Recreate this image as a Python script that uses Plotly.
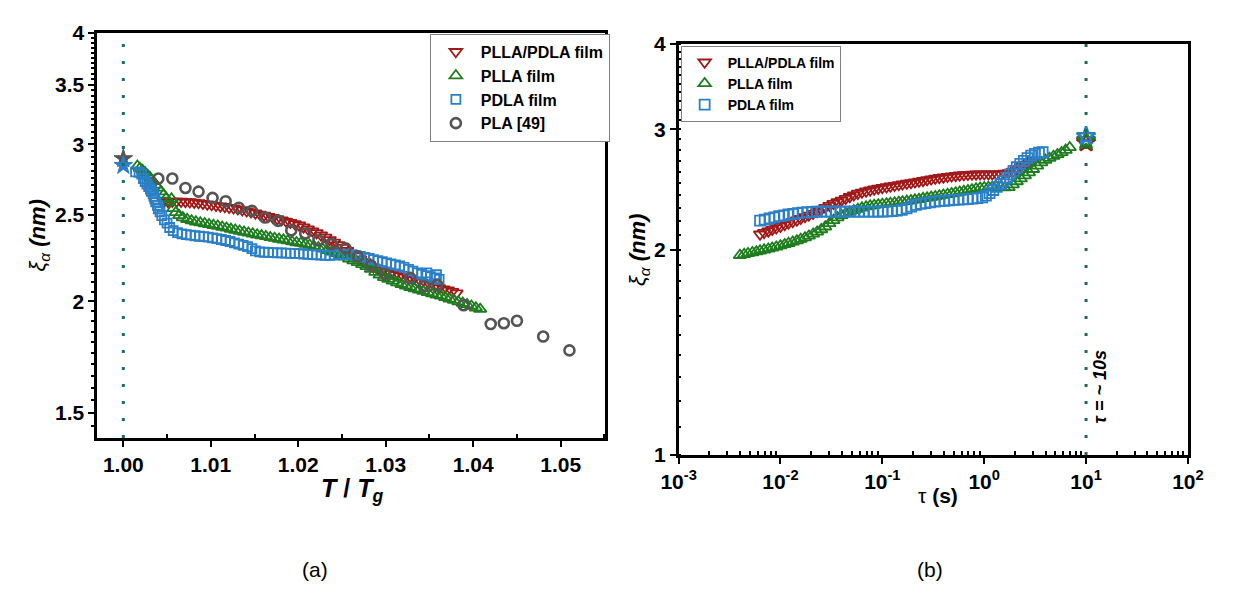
import plotly.graph_objects as go

# ---------------- data: panel (a) ----------------
pla_x = [1.0040, 1.0056, 1.0071, 1.0086, 1.0102, 1.0117, 1.0132, 1.0147, 1.0162, 1.0177,
         1.0192, 1.0208, 1.0223, 1.0238, 1.0254, 1.0268, 1.0283, 1.0299, 1.0328, 1.0344,
         1.0359, 1.0389, 1.0420, 1.0435, 1.0450, 1.0480, 1.0510]
pla_y = [2.746, 2.746, 2.680, 2.655, 2.612, 2.590, 2.547, 2.526, 2.483, 2.462,
         2.402, 2.383, 2.342, 2.319, 2.294, 2.246, 2.193, 2.146, 2.125, 2.079,
         2.086, 1.980, 1.886, 1.890, 1.902, 1.826, 1.762]

blend_a_x = [1.0046, 1.0051, 1.0056, 1.0061, 1.0066, 1.0071, 1.0076, 1.0081, 1.0086, 1.0091,
             1.0096, 1.0101, 1.0106, 1.0111, 1.0116, 1.0121, 1.0126, 1.0131, 1.0136, 1.0141,
             1.0146, 1.0151, 1.0156, 1.0161, 1.0166, 1.0171, 1.0176, 1.0181, 1.0186, 1.0191,
             1.0196, 1.0201, 1.0206, 1.0211, 1.0216, 1.0221, 1.0226, 1.0231, 1.0236, 1.0241,
             1.0246, 1.0251, 1.0256, 1.0261, 1.0266, 1.0271, 1.0276, 1.0281, 1.0286, 1.0291,
             1.0296, 1.0301, 1.0306, 1.0311, 1.0316, 1.0321, 1.0326, 1.0331, 1.0336, 1.0341,
             1.0346, 1.0351, 1.0356, 1.0361, 1.0366, 1.0371, 1.0376, 1.0381]
blend_a_y = [2.585, 2.587, 2.588, 2.589, 2.588, 2.587, 2.585, 2.582, 2.579, 2.574,
             2.570, 2.566, 2.561, 2.557, 2.553, 2.548, 2.544, 2.538, 2.532, 2.525,
             2.518, 2.511, 2.504, 2.497, 2.489, 2.482, 2.475, 2.467, 2.459, 2.451,
             2.443, 2.434, 2.422, 2.410, 2.398, 2.386, 2.372, 2.359, 2.344, 2.329,
             2.313, 2.297, 2.280, 2.263, 2.247, 2.230, 2.214, 2.198, 2.184, 2.174,
             2.165, 2.157, 2.149, 2.142, 2.134, 2.127, 2.120, 2.113, 2.106, 2.100,
             2.093, 2.085, 2.078, 2.070, 2.064, 2.058, 2.051, 2.043]

plla_a_x = [1.0016, 1.0019, 1.0022, 1.0025, 1.0028, 1.0031, 1.0034, 1.0037, 1.0040, 1.0043,
            1.0046, 1.0049, 1.0052, 1.0055, 1.0057, 1.0060, 1.0064, 1.0068, 1.0073, 1.0078,
            1.0083, 1.0088, 1.0093, 1.0098, 1.0103, 1.0108, 1.0113, 1.0118, 1.0123, 1.0128,
            1.0133, 1.0138, 1.0143, 1.0148, 1.0153, 1.0158, 1.0163, 1.0168, 1.0173, 1.0178,
            1.0183, 1.0188, 1.0193, 1.0198, 1.0203, 1.0208, 1.0213, 1.0218, 1.0223, 1.0228,
            1.0233, 1.0238, 1.0243, 1.0248, 1.0253, 1.0258, 1.0263, 1.0268, 1.0273, 1.0278,
            1.0283, 1.0288, 1.0293, 1.0298, 1.0303, 1.0308, 1.0313, 1.0318, 1.0323, 1.0328,
            1.0333, 1.0338, 1.0343, 1.0348, 1.0353, 1.0358, 1.0363, 1.0368, 1.0373, 1.0378,
            1.0383, 1.0388, 1.0393, 1.0398, 1.0403, 1.0408]
plla_a_y = [2.836, 2.820, 2.806, 2.788, 2.769, 2.750, 2.726, 2.702, 2.680, 2.655,
            2.633, 2.610, 2.585, 2.606, 2.542, 2.516, 2.497, 2.483, 2.472, 2.463,
            2.456, 2.450, 2.445, 2.439, 2.434, 2.429, 2.423, 2.417, 2.410, 2.404,
            2.398, 2.392, 2.386, 2.381, 2.375, 2.370, 2.365, 2.359, 2.354, 2.349,
            2.344, 2.339, 2.333, 2.328, 2.325, 2.318, 2.313, 2.306, 2.298, 2.290,
            2.281, 2.272, 2.264, 2.254, 2.243, 2.232, 2.222, 2.211, 2.200, 2.189,
            2.174, 2.157, 2.142, 2.128, 2.118, 2.108, 2.099, 2.090, 2.082, 2.074,
            2.067, 2.060, 2.053, 2.047, 2.040, 2.034, 2.029, 2.021, 2.013, 2.006,
            1.998, 1.991, 1.984, 1.976, 1.967, 1.960]

pdla_a_x = [1.0014, 1.0018, 1.0021, 1.0023, 1.0025, 1.0027, 1.0029, 1.0031, 1.0032, 1.0034,
            1.0035, 1.0036, 1.0037, 1.0039, 1.0040, 1.0042, 1.0044, 1.0047, 1.0050, 1.0053,
            1.0057, 1.0062, 1.0067, 1.0072, 1.0077, 1.0082, 1.0087, 1.0092, 1.0097, 1.0102,
            1.0107, 1.0112, 1.0117, 1.0122, 1.0127, 1.0132, 1.0137, 1.0142, 1.0147, 1.0151,
            1.0156, 1.0161, 1.0166, 1.0171, 1.0176, 1.0181, 1.0186, 1.0191, 1.0196, 1.0201,
            1.0206, 1.0211, 1.0216, 1.0221, 1.0226, 1.0231, 1.0236, 1.0241, 1.0246, 1.0251,
            1.0256, 1.0261, 1.0266, 1.0271, 1.0276, 1.0281, 1.0286, 1.0291, 1.0296, 1.0301,
            1.0306, 1.0311, 1.0316, 1.0321, 1.0326, 1.0331, 1.0336, 1.0341, 1.0346, 1.0351,
            1.0356, 1.0361, 1.0347, 1.0358]
pdla_a_y = [2.793, 2.790, 2.778, 2.746, 2.725, 2.707, 2.690, 2.673, 2.656, 2.639,
            2.622, 2.606, 2.585, 2.562, 2.540, 2.520, 2.495, 2.468, 2.447, 2.420,
            2.400, 2.388, 2.380, 2.376, 2.373, 2.369, 2.366, 2.363, 2.360, 2.356,
            2.352, 2.346, 2.340, 2.334, 2.326, 2.318, 2.311, 2.303, 2.292, 2.278,
            2.272, 2.270, 2.269, 2.268, 2.267, 2.266, 2.265, 2.264, 2.263, 2.262,
            2.260, 2.258, 2.256, 2.255, 2.254, 2.252, 2.252, 2.254, 2.256, 2.258,
            2.257, 2.255, 2.251, 2.246, 2.240, 2.234, 2.227, 2.221, 2.215, 2.209,
            2.203, 2.197, 2.191, 2.183, 2.172, 2.162, 2.152, 2.144, 2.137, 2.131,
            2.125, 2.117, 2.152, 2.142]

star_a_x = [1.0, 1.0]
star_a_y = [2.89, 2.84]

# ---------------- data: panel (b) ----------------
blend_b_x = [0.0063, 0.0069, 0.0076, 0.0083, 0.0091, 0.0100, 0.0110, 0.0120, 0.0132, 0.0145,
             0.0158, 0.0174, 0.0190, 0.0209, 0.0229, 0.0251, 0.0275, 0.0302, 0.0331, 0.0363,
             0.0398, 0.0437, 0.0479, 0.0525, 0.0575, 0.0631, 0.0692, 0.0759, 0.0832, 0.0912,
             0.100, 0.110, 0.120, 0.132, 0.145, 0.158, 0.174, 0.191, 0.209, 0.229,
             0.251, 0.275, 0.302, 0.331, 0.363, 0.398, 0.437, 0.479, 0.525, 0.575,
             0.631, 0.692, 0.759, 0.832, 0.912, 1.00, 1.10, 1.20, 1.32, 1.45,
             1.58, 1.74, 1.91, 2.09, 2.29, 2.51, 2.75, 3.02]
blend_b_y = [2.106, 2.117, 2.128, 2.139, 2.151, 2.162, 2.174, 2.185, 2.197, 2.208,
             2.220, 2.233, 2.245, 2.258, 2.272, 2.288, 2.304, 2.320, 2.335, 2.348,
             2.361, 2.375, 2.390, 2.403, 2.416, 2.426, 2.435, 2.443, 2.451, 2.458,
             2.464, 2.470, 2.476, 2.482, 2.488, 2.494, 2.500, 2.505, 2.511, 2.517,
             2.523, 2.530, 2.537, 2.543, 2.548, 2.553, 2.558, 2.562, 2.566, 2.570,
             2.573, 2.575, 2.577, 2.579, 2.580, 2.580, 2.580, 2.580, 2.580, 2.581,
             2.585, 2.591, 2.603, 2.620, 2.645, 2.665, 2.685, 2.703]

plla_b_x = [0.0040, 0.0044, 0.0048, 0.0053, 0.0058, 0.0063, 0.0069, 0.0076, 0.0083, 0.0091,
            0.0100, 0.0110, 0.0120, 0.0132, 0.0145, 0.0158, 0.0174, 0.0190, 0.0209, 0.0229,
            0.0251, 0.0275, 0.0302, 0.0331, 0.0363, 0.0398, 0.0437, 0.0479, 0.0525, 0.0575,
            0.0631, 0.0692, 0.0759, 0.0832, 0.0912, 0.100, 0.110, 0.120, 0.132, 0.145,
            0.158, 0.174, 0.191, 0.209, 0.229, 0.251, 0.275, 0.302, 0.331, 0.363,
            0.398, 0.437, 0.479, 0.525, 0.575, 0.631, 0.692, 0.759, 0.832, 0.912,
            1.00, 1.10, 1.20, 1.32, 1.45, 1.58, 1.74, 1.91, 2.09, 2.29,
            2.51, 2.75, 3.02, 3.31, 3.63, 3.98, 4.37, 4.79, 5.25, 5.75,
            6.31, 6.92]
plla_b_y = [1.962, 1.968, 1.974, 1.980, 1.986, 1.992, 1.998, 2.004, 2.011, 2.018,
            2.026, 2.035, 2.043, 2.052, 2.061, 2.071, 2.082, 2.094, 2.108, 2.123,
            2.140, 2.160, 2.184, 2.207, 2.228, 2.245, 2.259, 2.271, 2.282, 2.292,
            2.302, 2.311, 2.318, 2.323, 2.327, 2.330, 2.334, 2.338, 2.342, 2.347,
            2.351, 2.355, 2.360, 2.365, 2.369, 2.377, 2.381, 2.387, 2.392, 2.398,
            2.404, 2.410, 2.416, 2.422, 2.428, 2.434, 2.441, 2.448, 2.455, 2.461,
            2.465, 2.468, 2.470, 2.470, 2.468, 2.464, 2.466, 2.490, 2.516, 2.540,
            2.566, 2.593, 2.622, 2.652, 2.682, 2.705, 2.722, 2.740, 2.757, 2.775,
            2.797, 2.822]

pdla_b_x = [0.0063, 0.0070, 0.0078, 0.0087, 0.0097, 0.0108, 0.0120, 0.0133, 0.0148, 0.0165,
            0.0183, 0.0204, 0.0227, 0.0252, 0.0281, 0.0312, 0.0348, 0.0387, 0.0430, 0.0479,
            0.0533, 0.0593, 0.0660, 0.0734, 0.0817, 0.0909, 0.101, 0.113, 0.125, 0.139,
            0.155, 0.173, 0.192, 0.214, 0.238, 0.265, 0.295, 0.328, 0.365, 0.406,
            0.452, 0.503, 0.560, 0.623, 0.693, 0.771, 0.858, 0.955, 1.04, 1.13,
            1.23, 1.33, 1.44, 1.55, 1.67, 1.80, 1.94, 2.09, 2.26, 2.45,
            2.66, 2.89, 3.15, 3.45, 3.75]
pdla_b_y = [2.205, 2.213, 2.221, 2.229, 2.238, 2.245, 2.251, 2.256, 2.261, 2.265,
            2.268, 2.270, 2.272, 2.273, 2.273, 2.273, 2.273, 2.273, 2.273, 2.273,
            2.273, 2.273, 2.273, 2.273, 2.273, 2.273, 2.274, 2.275, 2.277, 2.280,
            2.286, 2.298, 2.312, 2.325, 2.333, 2.339, 2.345, 2.351, 2.355, 2.358,
            2.361, 2.364, 2.366, 2.368, 2.371, 2.374, 2.378, 2.385, 2.399, 2.420,
            2.445, 2.470, 2.495, 2.520, 2.548, 2.578, 2.608, 2.640, 2.670, 2.698,
            2.722, 2.745, 2.762, 2.772, 2.778]

star_b_x = [10, 10, 10]
star_b_y = [2.87, 2.89, 2.93]

# ---------------- ticks ----------------
xa_ticks = [1.00, 1.01, 1.02, 1.03, 1.04, 1.05]
xa_text = ["1.00", "1.01", "1.02", "1.03", "1.04", "1.05"]
ya_ticks = [1.5, 2, 2.5, 3, 3.5, 4]
ya_text = ["1.5", "2", "2.5", "3", "3.5", "4"]
xb_ticks = [0.001, 0.01, 0.1, 1, 10, 100]
xb_text = ["10<sup>-3</sup>", "10<sup>-2</sup>", "10<sup>-1</sup>", "10<sup>0</sup>",
           "10<sup>1</sup>", "10<sup>2</sup>"]
yb_ticks = [1, 2, 3, 4]
yb_text = ["1", "2", "3", "4"]

# ---------------- styles ----------------
RED = "#a01919"
GREEN = "#1f7d1f"
BLUE = "#2a80c8"
GRAY = "#555555"
FONT = "Liberation Sans"
W, H = 1236, 601

fig = go.Figure()


def sc(x, y, name, symbol, color, size, xa, ya, legend, show=True, lw=1.8):
    fig.add_trace(go.Scatter(
        x=x, y=y, mode="markers", name=name, xaxis=xa, yaxis=ya,
        legend=legend, showlegend=show,
        marker=dict(symbol=symbol, size=size, color=color,
                    line=dict(color=color, width=lw))))


# panel (a)
sc(blend_a_x, blend_a_y, "PLLA/PDLA film", "triangle-down-open", RED, 11, "x", "y", "legend")
sc(plla_a_x, plla_a_y, "PLLA film", "triangle-up-open", GREEN, 11, "x", "y", "legend")
sc(pdla_a_x, pdla_a_y, "PDLA film", "square-open", BLUE, 9, "x", "y", "legend")
sc(pla_x, pla_y, "PLA [49]", "circle-open", GRAY, 10, "x", "y", "legend", lw=2.6)
fig.add_trace(go.Scatter(x=star_a_x, y=star_a_y, mode="markers", xaxis="x", yaxis="y",
                         showlegend=False,
                         marker=dict(symbol="star", size=14, color=[GRAY, BLUE],
                                     line=dict(color=[GRAY, BLUE], width=1))))
# panel (b)
sc(blend_b_x, blend_b_y, "PLLA/PDLA film", "triangle-down-open", RED, 11, "x2", "y2", "legend2")
sc(plla_b_x, plla_b_y, "PLLA film", "triangle-up-open", GREEN, 11, "x2", "y2", "legend2")
sc(pdla_b_x, pdla_b_y, "PDLA film", "square-open", BLUE, 10, "x2", "y2", "legend2")
fig.add_trace(go.Scatter(x=star_b_x, y=star_b_y, mode="markers", xaxis="x2", yaxis="y2",
                         showlegend=False,
                         marker=dict(symbol="star-open", size=14, color=[RED, GREEN, BLUE],
                                     line=dict(color=[RED, GREEN, BLUE], width=2.6))))

tickfont = dict(family=FONT, size=21, color="black", weight="bold")
common = dict(showline=True, linecolor="black", linewidth=2.6, mirror=True,
              showgrid=False, zeroline=False, ticks="outside", tickwidth=2,
              ticklen=6, tickcolor="black", tickfont=tickfont)

ya_minor = [round(1.45 + 0.05 * i, 2) for i in range(52)]
yb_minor = [round(1.0 + 0.1 * i, 1) for i in range(31)]
xb_minor = [m * 10.0 ** e for e in range(-3, 2) for m in range(2, 10)]

fig.update_layout(
    width=W, height=H, autosize=False,
    margin=dict(l=0, r=0, t=0, b=0),
    paper_bgcolor="white", plot_bgcolor="white",
    xaxis=dict(domain=[81.5 / W, 604 / W], anchor="y", range=[0.99702, 1.05511],
               tickvals=xa_ticks, ticktext=xa_text,
               minor=dict(tickvals=[1.005, 1.015, 1.025, 1.035, 1.045, 1.055],
                          ticks="inside", ticklen=4, tickwidth=2, tickcolor="black"),
               **common),
    yaxis=dict(domain=[1 - 443 / H, 1 - 21.7 / H], anchor="x", type="log",
               range=[0.1477, 0.60206], tickvals=ya_ticks, ticktext=ya_text,
               minor=dict(tickvals=ya_minor, ticks="outside", ticklen=3, tickwidth=2,
                          tickcolor="black"),
               **common),
    xaxis2=dict(domain=[679.3 / W, 1203 / W], anchor="y2", type="log", range=[-3, 2],
                tickvals=xb_ticks, ticktext=xb_text,
                minor=dict(tickvals=xb_minor, ticks="inside", ticklen=4, tickwidth=2,
                           tickcolor="black"),
                **common),
    yaxis2=dict(domain=[1 - 460.7 / H, 1 - 33.3 / H], anchor="x2", type="log",
                range=[0, 0.60206], tickvals=yb_ticks, ticktext=yb_text,
                minor=dict(tickvals=yb_minor, ticks="inside", ticklen=3, tickwidth=2,
                           tickcolor="black"),
                **common),
    legend=dict(x=423.5 / W, y=1 - 22.7 / H, xanchor="left", yanchor="top",
                bgcolor="white", bordercolor="#808080", borderwidth=1,
                font=dict(family=FONT, size=16, color="black", weight="bold"),
                tracegroupgap=0, itemwidth=40),
    legend2=dict(x=681.4 / W, y=1 - 35 / H, xanchor="left", yanchor="top",
                 bgcolor="white", bordercolor="#808080", borderwidth=1,
                 font=dict(family=FONT, size=14, color="black", weight="bold"),
                 tracegroupgap=0, itemwidth=36),
)

# dotted reference lines
fig.add_shape(type="line", xref="x", yref="y domain", x0=1.0, x1=1.0, y0=0, y1=1,
              line=dict(color="#1d6b6b", width=3, dash="3px,14px"))
fig.add_shape(type="line", xref="x2", yref="y2 domain", x0=10, x1=10, y0=0, y1=1,
              line=dict(color="#1f6b50", width=3, dash="3px,14px"))

ann = [
    dict(x=22 / W, y=1 - 232 / H, text="<i>ξ</i><sub><i>α</i></sub><b><i> (nm)</i></b>",
         textangle=-90, font=dict(size=22)),
    dict(x=638 / W, y=1 - 247 / H, text="<i>ξ</i><sub><i>α</i></sub><b><i> (nm)</i></b>",
         textangle=-90, font=dict(size=22)),
    dict(x=343 / W, y=1 - 497 / H, text="<b><i>T</i> / <i>T</i><sub><i>g</i></sub></b>",
         font=dict(size=25)),
    dict(x=946 / W, y=1 - 503 / H, text="τ <b>(s)</b>", font=dict(size=21)),
    dict(x=1113 / W, y=1 - 390 / H, text="<b><i>τ = ~ 10s</i></b>", textangle=-90,
         font=dict(size=18)),
    dict(x=305 / W, y=1 - 580 / H, text="(a)", font=dict(size=21)),
    dict(x=938 / W, y=1 - 580 / H, text="(b)", font=dict(size=21)),
]
for a in ann:
    a["font"].update(family=FONT, color="black")
    fig.add_annotation(xref="paper", yref="paper", showarrow=False,
                       xanchor="center", yanchor="middle", **a)

fig.write_html("out.html", config={"displayModeBar": False},
               post_script="document.body.style.margin='0px';")
